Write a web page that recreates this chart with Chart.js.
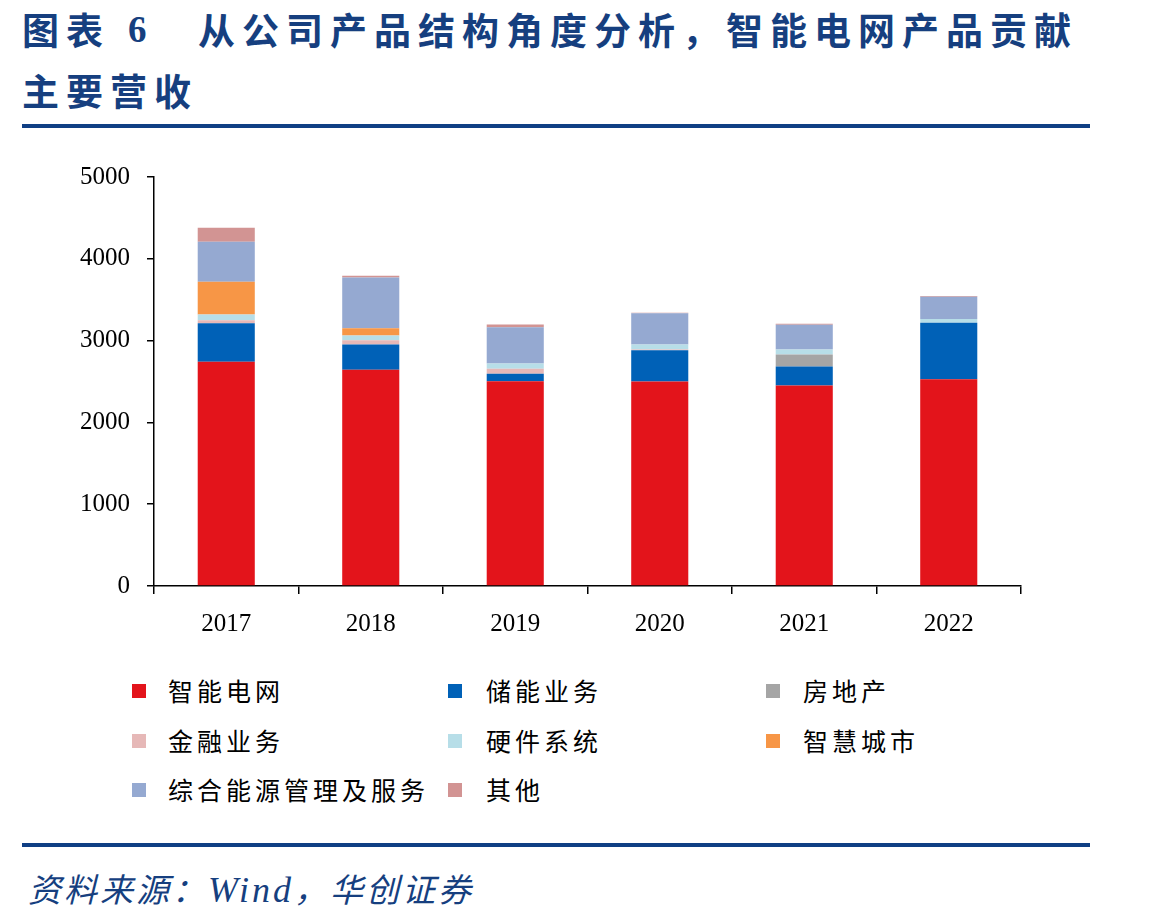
<!DOCTYPE html>
<html>
<head>
<meta charset="utf-8">
<script src="https://cdn.jsdelivr.net/npm/chart.js@4"></script>
<style>
  body { margin: 0; background: #fff; width: 1149px; height: 921px; position: relative; overflow: hidden; font-family: "Noto Sans CJK SC", sans-serif; }
  .title { position: absolute; color: #163f7f; font-weight: bold; font-size: 37px; letter-spacing: 7px; white-space: nowrap; line-height: 1; }
  .rule { position: absolute; left: 22px; width: 1068px; height: 4px; background: #0f3f84; }
  #wrap { position: absolute; left: 0; top: 145px; width: 1149px; height: 505px; }
  .lg { position: absolute; font-size: 25px; letter-spacing: 4px; color: #000; line-height: 1; white-space: nowrap; }
  .lg i { position: absolute; width: 14px; height: 14px; }
  .src { position: absolute; left: 28px; top: 864px; color: #163f7f; font-size: 33px; font-style: italic; white-space: nowrap; letter-spacing: 3px; }
  .src span { font-family: "Liberation Serif", serif; font-size: 36px; }
</style>
</head>
<body>
<div class="title" style="left:22px;top:11px;">图表</div>
<div class="title" style="left:128px;top:11px;font-family:'Liberation Serif',serif;">6</div>
<div class="title" style="left:198px;top:11px;">从公司产品结构角度分析，智能电网产品贡献</div>
<div class="title" style="left:22px;top:72px;">主要营收</div>
<div class="rule" style="top:124px;"></div>

<div id="wrap"><canvas id="chart"></canvas></div>

<div id="legend"></div>

<div class="rule" style="top:843px;"></div>
<div class="src">资料来源：<span>Wind</span>，华创证券</div>

<script>
const years = ['2017', '2018', '2019', '2020', '2021', '2022'];
const seriesNames = ['智能电网', '储能业务', '房地产', '金融业务', '硬件系统', '智慧城市', '综合能源管理及服务', '其他'];
const seriesColors = ['#e3141b', '#0061b7', '#a5a5a5', '#e6b8b7', '#b7dee8', '#f79646', '#95a9d1', '#d29493'];

const smartGrid  = [2740, 2643, 2504, 2500, 2451, 2528];
const storage    = [471, 309, 90, 382, 232, 691];
const realEstate = [0, 0, 0, 0, 146, 0];
const finance    = [37, 52, 61, 8, 0, 0];
const hardware   = [70, 57, 65, 61, 61, 45];
const smartCity  = [402, 89, 0, 0, 0, 0];
const energySvc  = [488, 622, 443, 382, 305, 272];
const others     = [171, 20, 33, 8, 12, 10];

const yTicks = [0, 1000, 2000, 3000, 4000, 5000];

const seriesValues = [smartGrid, storage, realEstate, finance, hardware, smartCity, energySvc, others];

const datasets = seriesNames.map((name, i) => ({
    label: name,
    data: seriesValues[i],
    backgroundColor: seriesColors[i],
    borderWidth: 0,
    barPercentage: 0.395,
    categoryPercentage: 1
}));

const tickFont = { family: "'Liberation Serif', 'Times New Roman', serif", size: 25 };

new Chart(document.getElementById('chart'), {
    type: 'bar',
    data: { labels: years, datasets: datasets },
    options: {
        responsive: true,
        maintainAspectRatio: false,
        animation: false,
        layout: { padding: { top: 16, right: 128, bottom: 0, left: 0 } },
        plugins: { legend: { display: false }, tooltip: { enabled: false } },
        scales: {
            x: {
                stacked: true,
                grid: { drawOnChartArea: false, offset: true, tickLength: 8, color: '#000', lineWidth: 1.5 },
                border: { color: '#000', width: 1.5 },
                ticks: { font: tickFont, color: '#000', padding: 15 },
                afterFit: s => { s.height = 64; }
            },
            y: {
                stacked: true,
                min: 0,
                max: 5000,
                afterBuildTicks: s => { s.ticks = yTicks.map(v => ({ value: v })); },
                grid: { drawOnChartArea: false, tickLength: 7, color: '#000', lineWidth: 1.5 },
                border: { color: '#000', width: 1.5 },
                ticks: { font: tickFont, color: '#000', padding: 17, callback: v => String(v) },
                afterFit: s => { s.width = 154; }
            }
        }
    }
});

// legend, three columns like the original
const legendCols = [132, 448, 766];
const legendRows = [691, 741, 790];
const legendEl = document.getElementById('legend');
seriesNames.forEach((name, i) => {
    const col = i % 3, row = Math.floor(i / 3);
    const d = document.createElement('div');
    d.className = 'lg';
    d.style.left = (legendCols[col]) + 'px';
    d.style.top = (legendRows[row] - 13) + 'px';
    d.style.paddingLeft = (col === 0 ? 36 : (col === 1 ? 38 : 37)) + 'px';
    d.innerHTML = '<i style="left:0;top:6px;background:' + seriesColors[i] + '"></i>' + name;
    legendEl.appendChild(d);
});
</script>
</body>
</html>
